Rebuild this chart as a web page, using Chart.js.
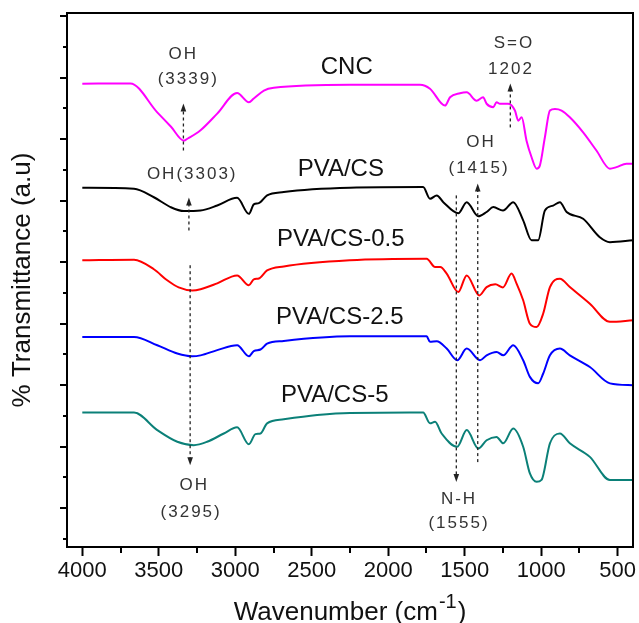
<!DOCTYPE html>
<html>
<head>
<meta charset="utf-8">
<script src="https://cdn.jsdelivr.net/npm/chart.js@4.4.1/dist/chart.umd.min.js"></script>
<style>
  html, body { margin: 0; padding: 0; background: #fff; }
  #wrap { width: 639px; height: 623px; }
</style>
</head>
<body>
<div id="wrap"><canvas id="c" width="639" height="623"></canvas></div>
<script>
// ---- tick labels ----
const xTickValues = [4000, 3500, 3000, 2500, 2000, 1500, 1000, 500];
const xMinorTicks = [3750, 3250, 2750, 2250, 1750, 1250, 750];
const yTickValues = [0, 1, 2, 3, 4, 5, 6, 7, 8, 9, 10, 11, 12, 13, 14, 15, 16, 17];

// ---- series (wavenumber, offset transmittance a.u.) ----
const cncWn = [4000,3686,3510,3420,3336,3310,3229,3118,2988,2911,2879,2813,2748,2250,1792,1727,1629,1596,1531,1487,1422,1380,1357,1313,1292,1270,1215,1172,1150,1128,1096,1063,1030,1009,976,943,910,867,813,726,639,551,508,443,400];
const cncT  = [14.80,14.81,13.87,13.40,12.95,13.02,13.28,13.83,14.50,14.20,14.32,14.58,14.67,14.77,14.77,14.64,14.09,14.36,14.49,14.52,14.25,14.36,14.15,14.04,14.20,14.15,14.15,13.93,13.60,13.71,12.95,12.41,12.04,12.14,13.06,13.93,13.98,13.93,13.71,13.22,12.63,12.04,12.09,12.20,12.20];

const pvaWn = [4000,3662,3532,3423,3336,3227,3118,2988,2911,2879,2846,2792,2683,2250,1772,1727,1683,1640,1542,1487,1411,1357,1313,1250,1183,1118,1063,1020,976,922,878,834,726,617,551,400];
const pvaT  = [11.42,11.39,11.11,10.79,10.66,10.68,10.84,11.09,10.57,10.88,10.92,11.17,11.28,11.42,11.44,11.06,11.17,10.95,10.59,10.95,10.49,10.63,10.79,10.68,10.95,10.36,9.71,9.71,10.68,10.84,10.95,10.63,10.41,9.81,9.65,9.71];

const pva05Wn = [4000,3662,3532,3445,3370,3281,3227,3118,2988,2911,2879,2846,2792,2683,2250,1749,1694,1660,1618,1542,1487,1405,1357,1300,1250,1194,1161,1118,1074,1030,987,943,878,813,682,551,400];
const pva05T  = [9.06,9.08,8.77,8.41,8.18,8.08,8.12,8.31,8.57,8.25,8.44,8.47,8.73,8.86,9.06,9.11,8.84,8.84,8.63,8.03,8.57,7.92,8.19,8.28,8.18,8.63,8.30,7.76,7.00,6.89,7.33,8.19,8.46,8.19,7.65,7.06,7.11];

const pva25Wn = [4000,3662,3510,3379,3281,3227,3118,2988,2911,2879,2835,2792,2683,2250,1749,1727,1683,1618,1549,1487,1400,1357,1292,1248,1183,1118,1074,1020,987,943,878,813,682,551,400];
const pva25T  = [6.57,6.57,6.30,6.03,5.94,5.97,6.14,6.30,5.94,6.11,6.16,6.35,6.44,6.59,6.59,6.41,6.43,6.19,5.81,6.19,5.81,5.97,6.08,5.97,6.30,5.81,5.27,5.06,5.38,5.97,6.19,5.97,5.59,5.06,5.00];

const pva5Wn = [4000,3662,3510,3379,3271,3184,3075,2988,2911,2868,2835,2792,2683,2465,2250,1772,1727,1694,1651,1549,1487,1411,1357,1292,1248,1183,1118,1074,1030,998,943,878,813,682,551,400];
const pva5T  = [4.11,4.11,3.54,3.16,3.05,3.16,3.43,3.63,3.08,3.41,3.43,3.76,3.89,4.03,4.10,4.11,3.76,3.81,3.43,3.00,3.54,2.94,3.21,3.32,3.11,3.59,3.00,2.13,1.86,1.92,3.11,3.43,3.11,2.67,1.92,1.92];

const seriesNames = ['CNC', 'PVA/CS', 'PVA/CS-0.5', 'PVA/CS-2.5', 'PVA/CS-5'];

// ---- annotations (data coordinates) ----
const arrows = [
  { x: 3339, from: 12.63, to: 14.16 },
  { x: 3303, from: 10.03, to: 11.10 },
  { x: 3295, from: 8.90, to: 2.40 },
  { x: 1202, from: 13.38, to: 14.81 },
  { x: 1415, from: 2.50, to: 11.56 },
  { x: 1555, from: 11.17, to: 1.85 }
];
const notes = [
  { t: 'OH', x: 3347, y: 15.75 }, { t: '(3339)', x: 3314, y: 14.94 },
  { t: 'OH(3303)', x: 3288, y: 11.85 },
  { t: 'OH', x: 3275, y: 1.75 }, { t: '(3295)', x: 3295, y: 0.88 },
  { t: 'S=O', x: 1185, y: 16.10 }, { t: '1202', x: 1204, y: 15.26 },
  { t: 'OH', x: 1400, y: 12.89 }, { t: '(1415)', x: 1413, y: 12.05 },
  { t: 'N-H', x: 1544, y: 1.30 }, { t: '(1555)', x: 1544, y: 0.52 }
];
const seriesLabelPos = [
  { x: 2271, y: 15.32 }, { x: 2310, y: 12.01 }, { x: 2310, y: 9.74 },
  { x: 2317, y: 7.21 }, { x: 2350, y: 4.68 }
];

const FONT = "'Liberation Sans', Arial, sans-serif";
const colors = ['#ff00ff', '#000000', '#ff0000', '#0000ff', '#0b8078'];
const wns = [cncWn, pvaWn, pva05Wn, pva25Wn, pva5Wn];
const ts = [cncT, pvaT, pva05T, pva25T, pva5T];

const datasets = seriesNames.map((name, i) => ({
  label: name,
  data: wns[i].map((w, j) => ({ x: w, y: ts[i][j] })),
  borderColor: colors[i],
  backgroundColor: colors[i],
  borderWidth: 2,
  pointRadius: 0,
  cubicInterpolationMode: 'monotone',
  fill: false
}));

const decor = {
  id: 'decor',
  afterDraw(chart) {
    const { ctx, chartArea: a, scales: { x, y } } = chart;
    ctx.save();
    // frame (top + right)
    ctx.strokeStyle = '#000';
    ctx.lineWidth = 2;
    ctx.beginPath();
    ctx.moveTo(a.left - 1, a.top);
    ctx.lineTo(a.right, a.top);
    ctx.lineTo(a.right, a.bottom + 1);
    ctx.stroke();
    // x minor ticks
    xMinorTicks.forEach(v => {
      const px = Math.round(x.getPixelForValue(v));
      ctx.beginPath();
      ctx.moveTo(px, a.bottom);
      ctx.lineTo(px, a.bottom + 6);
      ctx.stroke();
    });
    // y ticks (alternating lengths)
    yTickValues.forEach(v => {
      const py = Math.round(y.getPixelForValue(v));
      const len = (v % 2 === 1) ? 7 : 4;
      ctx.beginPath();
      ctx.moveTo(a.left - len, py);
      ctx.lineTo(a.left, py);
      ctx.stroke();
    });
    // arrows
    ctx.strokeStyle = '#222';
    ctx.fillStyle = '#222';
    arrows.forEach(ar => {
      const px = x.getPixelForValue(ar.x);
      const p0 = y.getPixelForValue(ar.from);
      const p1 = y.getPixelForValue(ar.to);
      const dir = p1 < p0 ? -1 : 1;
      ctx.lineWidth = 1.3;
      ctx.setLineDash([3, 3]);
      ctx.beginPath();
      ctx.moveTo(px, p0);
      ctx.lineTo(px, p1 - dir * 6);
      ctx.stroke();
      ctx.setLineDash([]);
      ctx.beginPath();
      ctx.moveTo(px, p1);
      ctx.lineTo(px - 2.8, p1 - dir * 8);
      ctx.lineTo(px + 2.8, p1 - dir * 8);
      ctx.closePath();
      ctx.fill();
    });
    // annotation texts
    ctx.fillStyle = '#333';
    ctx.font = '17px ' + FONT;
    ctx.textAlign = 'center';
    ctx.textBaseline = 'middle';
    ctx.letterSpacing = '2px';
    notes.forEach(n => {
      ctx.fillText(n.t, x.getPixelForValue(n.x) + 1, y.getPixelForValue(n.y));
    });
    ctx.letterSpacing = '0px';
    // series labels
    ctx.fillStyle = '#111';
    ctx.font = '24px ' + FONT;
    seriesNames.forEach((s, i) => {
      ctx.fillText(s, x.getPixelForValue(seriesLabelPos[i].x), y.getPixelForValue(seriesLabelPos[i].y));
    });
    // y title
    ctx.font = '26px ' + FONT;
    ctx.save();
    ctx.translate(23, (a.top + a.bottom) / 2);
    ctx.rotate(-Math.PI / 2);
    ctx.fillText('% Transmittance (a.u)', 0, 0);
    ctx.restore();
    // x title with superscript
    const main = 'Wavenumber (cm';
    const sup = '-1';
    const close = ')';
    ctx.font = '26px ' + FONT;
    const wMain = ctx.measureText(main).width;
    const wClose = ctx.measureText(close).width;
    ctx.font = '20px ' + FONT;
    const wSup = ctx.measureText(sup).width;
    const total = wMain + wSup + wClose + 2;
    const cx = (a.left + a.right) / 2;
    const sx = cx - total / 2;
    const by = 620;
    ctx.textAlign = 'left';
    ctx.textBaseline = 'alphabetic';
    ctx.font = '26px ' + FONT;
    ctx.fillText(main, sx, by);
    ctx.font = '20px ' + FONT;
    ctx.fillText(sup, sx + wMain + 1, by - 12);
    ctx.font = '26px ' + FONT;
    ctx.fillText(close, sx + wMain + wSup + 2, by);
    ctx.restore();
  }
};

new Chart(document.getElementById('c'), {
  type: 'line',
  data: { datasets },
  options: {
    responsive: false,
    animation: false,
    events: [],
    layout: { padding: { top: 13, right: 6, left: 0, bottom: 0 } },
    plugins: { legend: { display: false }, tooltip: { enabled: false } },
    scales: {
      x: {
        type: 'linear',
        reverse: true,
        min: 400,
        max: 4100,
        afterBuildTicks: ax => { ax.ticks = xTickValues.map(v => ({ value: v })); },
        afterFit: ax => { ax.height = 76; },
        ticks: {
          font: { family: FONT, size: 22 },
          color: '#111',
          padding: 2,
          maxRotation: 0,
          autoSkip: false,
          callback: v => String(v)
        },
        grid: { drawOnChartArea: false, drawTicks: true, tickLength: 9, tickWidth: 2, tickColor: '#000' },
        border: { display: true, width: 2, color: '#000' }
      },
      y: {
        type: 'linear',
        min: -0.26,
        max: 17.1,
        afterFit: ax => { ax.width = 67; },
        ticks: { display: false },
        grid: { display: false },
        border: { display: true, width: 2, color: '#000' }
      }
    }
  },
  plugins: [decor]
});
</script>
</body>
</html>
